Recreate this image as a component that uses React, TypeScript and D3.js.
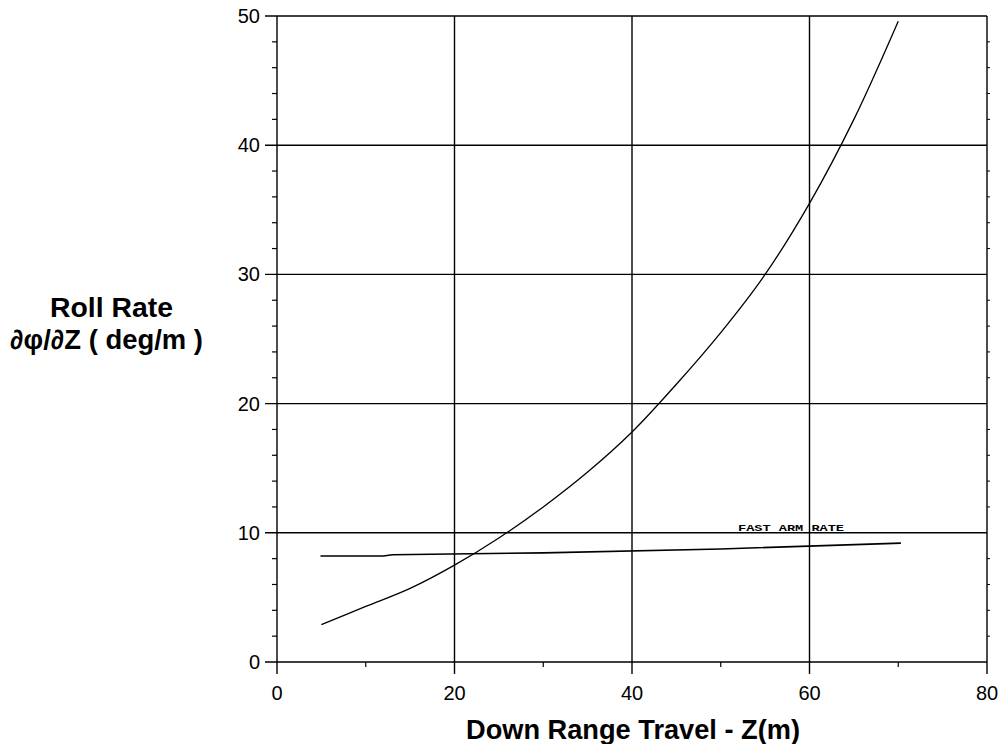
import React from "react";
import * as d3 from "d3";

const xTicksMajor = [0, 20, 40, 60, 80];
const xTicksMinor = [10, 30, 50, 70];
const yTicksMajor = [0, 10, 20, 30, 40, 50];
const yTicksMinor = [2, 4, 6, 8, 12, 14, 16, 18, 22, 24, 26, 28, 32, 34, 36, 38, 42, 44, 46, 48];

const curveX = [5, 10, 15, 20, 25, 30, 35, 40, 45, 50, 55, 60, 65, 70];
const curveY = [2.9, 4.3, 5.7, 7.5, 9.6, 12.0, 14.7, 17.8, 21.5, 25.5, 30.0, 35.5, 42.0, 49.6];

const armX = [4.9, 12, 13, 30, 50, 70.3];
const armY = [8.2, 8.2, 8.3, 8.45, 8.75, 9.2];

const W = 1006, H = 744;
const L = 277, R = 987, T = 16, B = 662;

export default function App() {
  const x = d3.scaleLinear().domain([0, 80]).range([L, R]);
  const y = d3.scaleLinear().domain([0, 50]).range([B, T]);
  const line = d3.line<[number, number]>().x(d => x(d[0])).y(d => y(d[1])).curve(d3.curveCatmullRom);
  const curvePts = curveX.map((v, i) => [v, curveY[i]] as [number, number]);
  const armPts = armX.map((v, i) => [v, armY[i]] as [number, number]);
  const armLine = d3.line<[number, number]>().x(d => x(d[0])).y(d => y(d[1]));
  const font = "'Liberation Sans', Arial, sans-serif";
  return (
    <svg width={W} height={H} style={{ position: "absolute", left: 0, top: 0, background: "#fff" }}>
      <rect x={0} y={0} width={W} height={H} fill="#fff" />
      {xTicksMajor.map(t => (
        <line key={"gx" + t} x1={x(t)} x2={x(t)} y1={T} y2={B + 12} stroke="#000" strokeWidth={1.4} />
      ))}
      {yTicksMajor.map(t => (
        <line key={"gy" + t} x1={L - 12} x2={R} y1={y(t)} y2={y(t)} stroke="#000" strokeWidth={1.4} />
      ))}
      {xTicksMinor.map(t => (
        <line key={"mx" + t} x1={x(t)} x2={x(t)} y1={B} y2={B + 5} stroke="#000" strokeWidth={1.2} />
      ))}
      {yTicksMinor.map(t => (
        <line key={"my" + t} x1={L - 5} x2={L} y1={y(t)} y2={y(t)} stroke="#000" strokeWidth={1.2} />
      ))}
      {yTicksMinor.map(t => (
        <line key={"ry" + t} x1={R} x2={R + 3} y1={y(t)} y2={y(t)} stroke="#000" strokeWidth={1} />
      ))}
      {yTicksMajor.map(t => (
        <text key={"ly" + t} x={260} y={y(t) + 7} textAnchor="end" fontFamily={font} fontSize={20} fill="#000">{t}</text>
      ))}
      {xTicksMajor.map(t => (
        <text key={"lx" + t} x={x(t)} y={700} textAnchor="middle" fontFamily={font} fontSize={20} fill="#000">{t}</text>
      ))}
      <path d={line(curvePts) || ""} fill="none" stroke="#000" strokeWidth={1.3} />
      <path d={armLine(armPts) || ""} fill="none" stroke="#000" strokeWidth={1.6} />
      <text x={738} y={531} fontFamily="'Liberation Mono', monospace" fontWeight="bold" fontSize={9} textLength={106} lengthAdjust="spacingAndGlyphs" fill="#000">FAST ARM RATE</text>
      <text x={50} y={317} fontFamily={font} fontWeight="bold" fontSize={27} textLength={123} lengthAdjust="spacingAndGlyphs" fill="#000">Roll Rate</text>
      <text x={10} y={349} fontFamily={font} fontWeight="bold" fontSize={27} textLength={193} lengthAdjust="spacingAndGlyphs" fill="#000">∂φ/∂Z ( deg/m )</text>
      <text x={466} y={739} fontFamily={font} fontWeight="bold" fontSize={28} textLength={334} lengthAdjust="spacingAndGlyphs" fill="#000">Down Range Travel - Z(m)</text>
    </svg>
  );
}
